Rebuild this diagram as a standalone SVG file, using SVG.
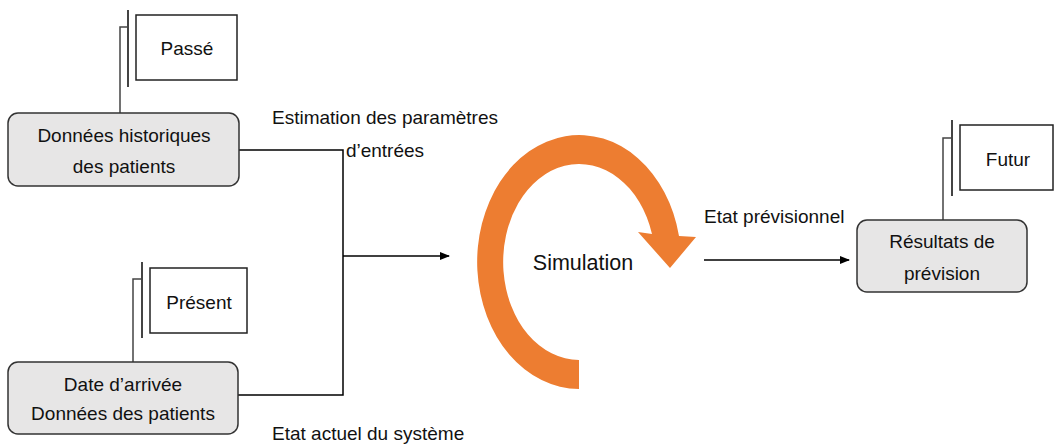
<svg xmlns="http://www.w3.org/2000/svg" width="1055" height="445" viewBox="0 0 1055 445">
  <style>
    text { font-family: "Liberation Sans", Arial, sans-serif; font-size: 19px; fill: #111; }
    .mid { text-anchor: middle; }
    .big { font-size: 21.5px; }
    .proc { fill: #e7e6e6; stroke: #333; stroke-width: 1.5; }
    .time { fill: #fff; stroke: #222; stroke-width: 1.5; }
    .brk { fill: none; stroke: #444; stroke-width: 2; }
    .brk2 { fill: none; stroke: #444; stroke-width: 1.5; }
    .conn { fill: none; stroke: #000; stroke-width: 1.5; }
  </style>
  <defs>
    <marker id="arr" markerWidth="10" markerHeight="8" refX="9" refY="4" orient="auto" markerUnits="userSpaceOnUse">
      <path d="M0,0 L10,4 L0,8 Z" fill="#000"/>
    </marker>
  </defs>
  <rect width="1055" height="445" fill="#fff"/>

  <g id="connectors">
    <polyline class="conn" points="239,150 343,150 343,395 238,395"/>
    <line class="conn" x1="343" y1="256" x2="449" y2="256" marker-end="url(#arr)"/>
    <line class="conn" x1="704" y1="260" x2="849" y2="260" marker-end="url(#arr)"/>
  </g>

  <g id="label-estimation">
    <text x="385" y="124" class="mid">Estimation des paramètres</text>
    <text x="385" y="157" class="mid">d’entrées</text>
  </g>
  <g id="label-etat-actuel">
    <text x="272" y="440">Etat actuel du système</text>
  </g>
  <g id="label-etat-previsionnel">
    <text x="704" y="223">Etat prévisionnel</text>
  </g>

  <g id="passe">
    <line class="brk" x1="128" y1="10" x2="128" y2="87"/>
    <polyline class="brk2" points="128,27 120,27 120,113"/>
    <rect class="time" x="136" y="15" width="101" height="65"/>
    <text x="187" y="55" class="mid">Passé</text>
  </g>

  <g id="present">
    <line class="brk" x1="142" y1="262" x2="142" y2="338"/>
    <polyline class="brk2" points="142,279 133,279 133,362"/>
    <rect class="time" x="150" y="268" width="97" height="65"/>
    <text x="199" y="309" class="mid">Présent</text>
  </g>

  <g id="futur">
    <line class="brk" x1="952" y1="120" x2="952" y2="196"/>
    <polyline class="brk2" points="952,138 943,138 943,220"/>
    <rect class="time" x="960" y="125" width="93" height="65"/>
    <text x="1008" y="166" class="mid">Futur</text>
  </g>

  <g id="donnees-historiques">
    <rect class="proc" x="8" y="113" width="231" height="73" rx="10"/>
    <text x="124" y="142" class="mid">Données historiques</text>
    <text x="124" y="173" class="mid">des patients</text>
  </g>

  <g id="date-arrivee">
    <rect class="proc" x="8" y="362" width="230" height="72" rx="10"/>
    <text x="123" y="391" class="mid">Date d’arrivée</text>
    <text x="123" y="420" class="mid">Données des patients</text>
  </g>

  <g id="resultats">
    <rect class="proc" x="857" y="220" width="170" height="72" rx="10"/>
    <text x="942" y="248" class="mid">Résultats de</text>
    <text x="942" y="280" class="mid">prévision</text>
  </g>

  <g id="simulation">
    <path d="M579,389 A102,127 0 1 1 679,236 L696,237 L670,268 L638,232 L652,234 A76,98 0 1 0 579,360 Z" fill="#ed7d31"/>
    <text x="583" y="270" class="mid big">Simulation</text>
  </g>
</svg>
